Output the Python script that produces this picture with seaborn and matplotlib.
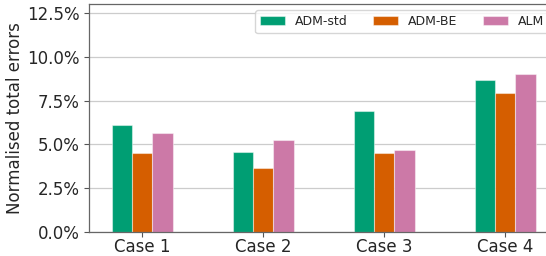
import pandas as pd
import seaborn as sns
import matplotlib.pyplot as plt
from matplotlib.ticker import PercentFormatter

# values (percent)
cases = ['Case 1', 'Case 2', 'Case 3', 'Case 4']
methods = ['ADM-std', 'ADM-BE', 'ALM']
adm_std = [6.09, 4.56, 6.89, 8.67]
adm_be = [4.52, 3.68, 4.50, 7.95]
alm = [5.66, 5.26, 4.67, 9.00]
colors = ['#009e73', '#d55e00', '#cc79a7']

df = pd.DataFrame({
    'case': cases * 3,
    'method': [m for m in methods for _ in cases],
    'error': adm_std + adm_be + alm,
})

sns.set_style("ticks")
plt.rcParams['font.family'] = ['DejaVu Sans']

fig = plt.figure(figsize=(5.46, 2.56), dpi=100)
ax = fig.add_axes([0.163, 0.0926, 0.8535, 0.892])

sns.barplot(data=df, x='case', y='error', hue='method', hue_order=methods,
            palette=colors, saturation=1, width=0.5, gap=0,
            edgecolor=(1, 1, 1, 0.45), linewidth=0.8, ax=ax)

ax.set_xlim(-0.44, 3.41)
ax.set_ylim(0, 13)
ax.set_yticks([0, 2.5, 5, 7.5, 10, 12.5])
ax.yaxis.set_major_formatter(PercentFormatter(xmax=100, decimals=1))
ax.grid(axis='y', color='#cccccc', linewidth=0.9)
ax.set_axisbelow(True)

ax.set_xlabel('')
ax.set_ylabel('Normalised total errors', fontsize=12, labelpad=2)
ax.tick_params(labelsize=12, color='#555555', length=3.5)
ax.tick_params(axis='x', pad=0.8)
for s in ax.spines.values():
    s.set_color('#666666')
    s.set_linewidth(0.9)
ax.spines['right'].set_visible(False)

ax.legend(ncol=3, loc='upper right', fontsize=9, title=None)

fig.savefig('out.png', dpi=100)
